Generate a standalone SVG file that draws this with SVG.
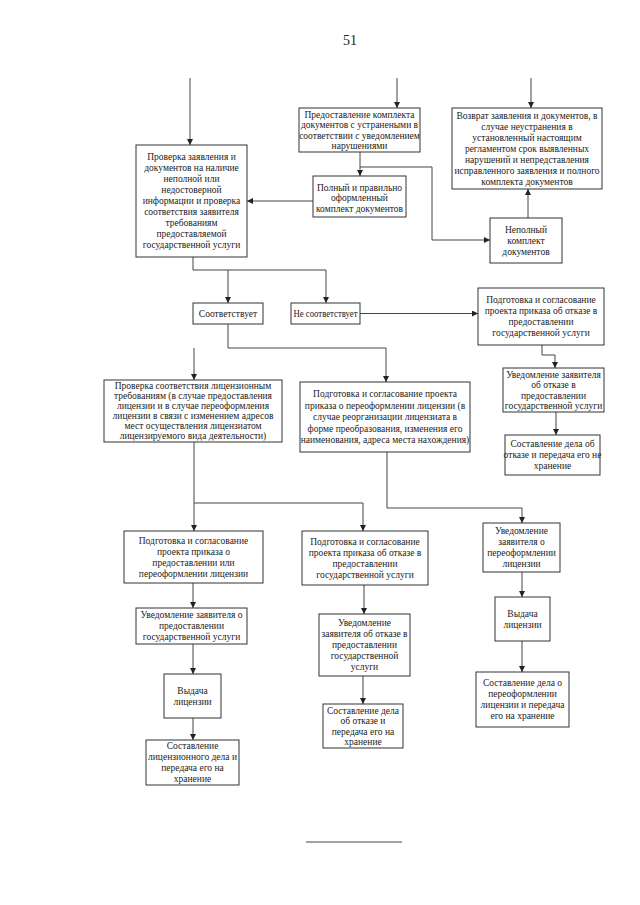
<svg xmlns="http://www.w3.org/2000/svg" width="640" height="905" viewBox="0 0 640 905">
<defs>
<marker id="ah" markerWidth="6" markerHeight="6" refX="6" refY="3" orient="auto" markerUnits="userSpaceOnUse">
<path d="M0,0 L6,3 L0,6 z" fill="#222"/>
</marker>
<style>
.b{fill:#fff;stroke:#333;stroke-width:1}
.t{font-family:"Liberation Serif","Times New Roman",serif;font-size:9.5px;fill:#222;text-anchor:middle}
.c{fill:none;stroke:#444;stroke-width:1}
.a{marker-end:url(#ah)}
</style>
</defs>
<rect width="640" height="905" fill="#fff"/>
<text x="350" y="45" style="font-family:'Liberation Serif',serif;font-size:14px;fill:#222;text-anchor:middle">51</text>

<g id="connectors">
<path class="c a" d="M190,78 V145"/>
<path class="c a" d="M397,78 V108"/>
<path class="c a" d="M531,78 V108"/>
<path class="c a" d="M360,152 V176"/>
<path class="c a" d="M360,167 H432 V240 H490"/>
<path class="c a" d="M313,201 H247"/>
<path class="c a" d="M528,218 V189"/>
<path class="c" d="M193,257 V270 H326"/>
<path class="c a" d="M228,270 V303"/>
<path class="c a" d="M326,270 V303"/>
<path class="c a" d="M360,313.5 H478"/>
<path class="c" d="M228,324 V348 H386"/>
<path class="c a" d="M194,348 V380"/>
<path class="c a" d="M386,348 V382"/>
<path class="c a" d="M542,345 V355 H555 V368"/>
<path class="c a" d="M556,412 V435"/>
<path class="c" d="M194,442 V503 H363"/>
<path class="c a" d="M194,503 V531"/>
<path class="c a" d="M363,503 V531"/>
<path class="c a" d="M387,452 V508 H522 V523"/>
<path class="c a" d="M193,583 V608"/>
<path class="c a" d="M193,644 V674"/>
<path class="c a" d="M193,718 V740"/>
<path class="c a" d="M364,585 V614"/>
<path class="c a" d="M363,676 V704"/>
<path class="c a" d="M522,572 V597"/>
<path class="c a" d="M522,641 V672"/>
</g>

<g id="n_check">
<rect class="b" x="136" y="145" width="111" height="112"/>
<text class="t" x="191.5" y="160.3">Проверка заявления и</text>
<text class="t" x="191.5" y="171.3">документов на наличие</text>
<text class="t" x="191.5" y="182.3">неполной или</text>
<text class="t" x="191.5" y="193.3">недостоверной</text>
<text class="t" x="191.5" y="204.3">информации и проверка</text>
<text class="t" x="191.5" y="215.3">соответствия заявителя</text>
<text class="t" x="191.5" y="226.3">требованиям</text>
<text class="t" x="191.5" y="237.3">предоставляемой</text>
<text class="t" x="191.5" y="248.3">государственной услуги</text>
</g>

<g id="n_resubmit">
<rect class="b" x="299" y="108" width="121" height="44"/>
<text class="t" x="359.5" y="117.5">Предоставление комплекта</text>
<text class="t" x="359.5" y="128">документов с устранеными в</text>
<text class="t" x="359.5" y="138.5">соответствии с уведомлением</text>
<text class="t" x="359.5" y="149">нарушениями</text>
</g>

<g id="n_full">
<rect class="b" x="313" y="176" width="93" height="41"/>
<text class="t" x="359.5" y="190.5">Полный и правильно</text>
<text class="t" x="359.5" y="201">оформленный</text>
<text class="t" x="359.5" y="211.5">комплект документов</text>
</g>

<g id="n_return">
<rect class="b" x="452" y="108" width="150" height="81"/>
<text class="t" x="527" y="118.8">Возврат заявления и документов, в</text>
<text class="t" x="527" y="129.8">случае неустранения в</text>
<text class="t" x="527" y="140.8">установленный настоящим</text>
<text class="t" x="527" y="151.8">регламентом срок выявленных</text>
<text class="t" x="527" y="162.8">нарушений и непредставления</text>
<text class="t" x="527" y="173.8">исправленного заявления и полного</text>
<text class="t" x="527" y="184.8">комплекта документов</text>
</g>

<g id="n_incomplete">
<rect class="b" x="490" y="218" width="72" height="45"/>
<text class="t" x="526" y="232.8">Неполный</text>
<text class="t" x="526" y="243.8">комплект</text>
<text class="t" x="526" y="254.8">документов</text>
</g>

<g id="n_yes">
<rect class="b" x="193" y="303" width="70" height="21"/>
<text class="t" x="228" y="316.8">Соответствует</text>
</g>

<g id="n_no">
<rect class="b" x="291" y="303" width="69" height="21"/>
<text class="t" x="325.5" y="316.8" textLength="64" lengthAdjust="spacingAndGlyphs">Не соответствует</text>
</g>

<g id="n_refuse_prep">
<rect class="b" x="478" y="288" width="126" height="57"/>
<text class="t" x="541" y="303.3">Подготовка и согласование</text>
<text class="t" x="541" y="314.3">проекта приказа об отказе в</text>
<text class="t" x="541" y="325.3">предоставлении</text>
<text class="t" x="541" y="336.3">государственной услуги</text>
</g>

<g id="n_refuse_notify">
<rect class="b" x="503" y="368" width="101" height="44"/>
<text class="t" x="553.5" y="377.5">Уведомление заявителя</text>
<text class="t" x="553.5" y="388">об отказе в</text>
<text class="t" x="553.5" y="398.5">предоставлении</text>
<text class="t" x="553.5" y="409">государственной услуги</text>
</g>

<g id="n_refuse_archive">
<rect class="b" x="505" y="435" width="95" height="40"/>
<text class="t" x="552.5" y="447.3">Составление дела об</text>
<text class="t" x="552.5" y="458.3">отказе и передача его не</text>
<text class="t" x="552.5" y="469.3">хранение</text>
</g>

<g id="n_lic_check">
<rect class="b" x="104" y="380" width="178" height="62"/>
<text class="t" x="193" y="389.3">Проверка соответствия лицензионным</text>
<text class="t" x="193" y="399.3">требованиям (в случае предоставления</text>
<text class="t" x="193" y="409.3">лицензии и в случае переоформления</text>
<text class="t" x="193" y="419.3">лицензии в связи с изменением адресов</text>
<text class="t" x="193" y="429.3">мест осуществления лицензиатом</text>
<text class="t" x="193" y="439.3">лицензируемого вида деятельности)</text>
</g>

<g id="n_reissue_prep">
<rect class="b" x="300" y="382" width="170" height="70"/>
<text class="t" x="385" y="397.3">Подготовка и согласование проекта</text>
<text class="t" x="385" y="408.8">приказа о переоформлении лицензии (в</text>
<text class="t" x="385" y="420.3">случае реорганизации лицензиата в</text>
<text class="t" x="385" y="431.8">форме преобразования, изменения его</text>
<text class="t" x="385" y="443.3">наименования, адреса места нахождения)</text>
</g>

<g id="n_l1">
<rect class="b" x="124" y="531" width="139" height="52"/>
<text class="t" x="193.5" y="543.8">Подготовка и согласование</text>
<text class="t" x="193.5" y="554.8">проекта приказа о</text>
<text class="t" x="193.5" y="565.8">предоставлении или</text>
<text class="t" x="193.5" y="576.8">переоформлении лицензии</text>
</g>

<g id="n_l2">
<rect class="b" x="136" y="608" width="111" height="36"/>
<text class="t" x="191.5" y="618.3">Уведомление заявителя о</text>
<text class="t" x="191.5" y="629.3">предоставлении</text>
<text class="t" x="191.5" y="640.3">государственной услуги</text>
</g>

<g id="n_l3">
<rect class="b" x="164" y="674" width="57" height="44"/>
<text class="t" x="192.5" y="693.8">Выдача</text>
<text class="t" x="192.5" y="704.8">лицензии</text>
</g>

<g id="n_l4">
<rect class="b" x="146" y="740" width="93" height="45"/>
<text class="t" x="192.5" y="749.3">Составление</text>
<text class="t" x="192.5" y="760.3">лицензионного дела и</text>
<text class="t" x="192.5" y="771.3">передача его на</text>
<text class="t" x="192.5" y="782.3">хранение</text>
</g>

<g id="n_m1">
<rect class="b" x="302" y="531" width="126" height="54"/>
<text class="t" x="365" y="544.8">Подготовка и согласование</text>
<text class="t" x="365" y="555.8">проекта приказа об отказе в</text>
<text class="t" x="365" y="566.8">предоставлении</text>
<text class="t" x="365" y="577.8">государственной услуги</text>
</g>

<g id="n_m2">
<rect class="b" x="319" y="614" width="91" height="62"/>
<text class="t" x="364.5" y="626.3">Уведомление</text>
<text class="t" x="364.5" y="637.3">заявителя об отказе в</text>
<text class="t" x="364.5" y="648.3">предоставлении</text>
<text class="t" x="364.5" y="659.3">государственной</text>
<text class="t" x="364.5" y="670.3">услуги</text>
</g>

<g id="n_m3">
<rect class="b" x="323" y="704" width="80" height="44"/>
<text class="t" x="363" y="713.5">Составление дела</text>
<text class="t" x="363" y="724">об отказе и</text>
<text class="t" x="363" y="734.5">передача его на</text>
<text class="t" x="363" y="745">хранение</text>
</g>

<g id="n_r1">
<rect class="b" x="483" y="523" width="77" height="49"/>
<text class="t" x="521.5" y="534.3">Уведомление</text>
<text class="t" x="521.5" y="545.3">заявителя о</text>
<text class="t" x="521.5" y="556.3">переоформлении</text>
<text class="t" x="521.5" y="567.3">лицензии</text>
</g>

<g id="n_r2">
<rect class="b" x="495" y="597" width="55" height="44"/>
<text class="t" x="522.5" y="616.8">Выдача</text>
<text class="t" x="522.5" y="627.8">лицензии</text>
</g>

<g id="n_r3">
<rect class="b" x="476" y="672" width="93" height="55"/>
<text class="t" x="522.5" y="686.3">Составление дела о</text>
<text class="t" x="522.5" y="697.3">переоформлении</text>
<text class="t" x="522.5" y="708.3">лицензии и передача</text>
<text class="t" x="522.5" y="719.3">его на хранение</text>
</g>

<line x1="306" y1="842" x2="402" y2="842" stroke="#444" stroke-width="1"/>
</svg>
